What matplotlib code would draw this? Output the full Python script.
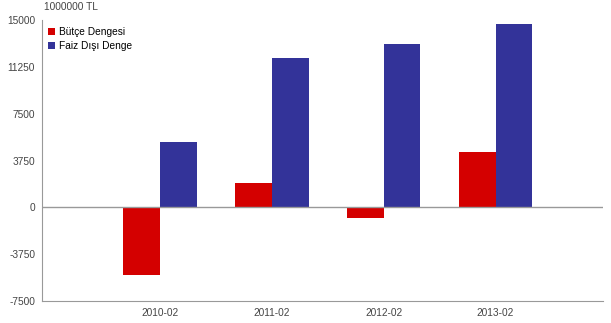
import matplotlib.pyplot as plt
import numpy as np

plt.rcParams['font.family'] = ['Liberation Sans', 'DejaVu Sans']

categories = ["2010-02", "2011-02", "2012-02", "2013-02"]
butce_dengesi = [-5400, 1950, -880, 4450]
faiz_disi_denge = [5250, 11950, 13150, 14700]
yticks = [-7500, -3750, 0, 3750, 7500, 11250, 15000]

fig = plt.figure(figsize=(6.11, 3.23), dpi=100)
ax = fig.add_axes([42 / 611, 1 - 300.7 / 323, 561 / 611, 280.2 / 323])

x = np.arange(len(categories))
w = 0.33
ax.bar(x - w / 2, butce_dengesi, w, color="#d40000", label="Bütçe Dengesi")
ax.bar(x + w / 2, faiz_disi_denge, w, color="#333399", label="Faiz Dışı Denge")

ax.set_xlim(-1.05, 3.96)
ax.set_ylim(-7500, 15000)
ax.set_yticks(yticks)
ax.set_yticklabels([str(t) for t in yticks])
ax.set_xticks(x)
ax.set_xticklabels(categories)
ax.tick_params(length=0, labelsize=7.3, colors="#444444", pad=5)
ax.axhline(0, color="#999999", lw=1)

for s in ["top", "right"]:
    ax.spines[s].set_visible(False)
for s in ["left", "bottom"]:
    ax.spines[s].set_color("#999999")

fig.text(44 / 611, 1 - 7.5 / 323, "1000000 TL", fontsize=7.3, color="#444444",
         ha="left", va="center")

ax.legend(loc="upper left", bbox_to_anchor=(0.003, 0.99), frameon=False,
          fontsize=7.3, handlelength=0.7, handleheight=0.7, handletextpad=0.45,
          labelspacing=0.35, borderaxespad=0)

fig.savefig("out.png", dpi=100)
